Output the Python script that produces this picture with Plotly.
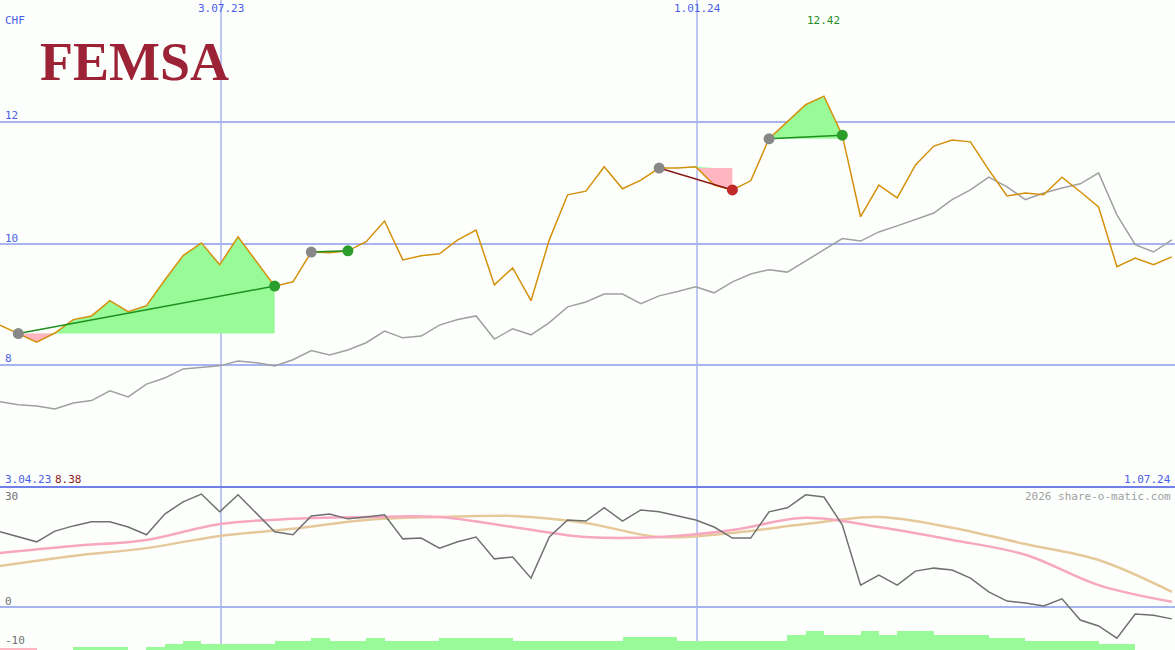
import plotly.graph_objects as go

weeks = list(range(1, 66))
price = [8.66, 8.52, 8.38, 8.53, 8.75, 8.81, 9.06, 8.88, 8.98, 9.40, 9.80, 10.01, 9.65, 10.11, 9.70,
         9.30, 9.37, 9.86, 9.85, 9.88, 10.03, 10.37, 9.73, 9.80, 9.83, 10.06, 10.22, 9.32, 9.60, 9.06,
         10.06, 10.80, 10.86, 11.26, 10.90, 11.04, 11.24, 11.24, 11.26, 10.96, 10.88, 11.03, 11.72, 12.00, 12.28,
         12.42, 11.78, 10.44, 10.96, 10.75, 11.29, 11.60, 11.70, 11.67, 11.21, 10.78, 10.83, 10.80, 11.09, 10.85,
         10.60, 9.62, 9.76, 9.65, 9.78]
bench = [7.40, 7.35, 7.33, 7.28, 7.38, 7.42, 7.58, 7.48, 7.69, 7.79, 7.94, 7.97, 7.99, 8.07, 8.04,
         7.99, 8.09, 8.24, 8.17, 8.25, 8.37, 8.56, 8.45, 8.48, 8.66, 8.75, 8.81, 8.43, 8.60, 8.50,
         8.70, 8.96, 9.04, 9.17, 9.17, 9.01, 9.14, 9.21, 9.29, 9.19, 9.37, 9.50, 9.57, 9.53, 9.71,
         9.89, 10.08, 10.04, 10.19, 10.29, 10.39, 10.50, 10.72, 10.88, 11.09, 10.93, 10.72, 10.83, 10.91, 10.98,
         11.16, 10.47, 9.98, 9.86, 10.06]
osc = [20.3, 18.9, 17.6, 20.5, 21.9, 23.0, 23.0, 21.6, 19.5, 25.1, 28.4, 30.5, 25.7, 30.3, 25.4,
       20.3, 19.5, 24.6, 25.1, 23.8, 24.3, 24.9, 18.4, 18.6, 15.9, 17.6, 18.9, 13.0, 13.5, 7.8,
       18.9, 23.5, 23.2, 26.8, 23.2, 26.2, 25.7, 24.6, 23.5, 21.6, 18.6, 18.6, 25.7, 26.8, 30.3,
       29.7, 22.2, 5.9, 8.6, 5.9, 9.7, 10.5, 10.0, 7.8, 4.1, 1.6, 1.1, 0.3, 2.2, -3.5,
       -5.1, -8.4, -1.9, -2.2, -3.2]
ma_weeks = [1, 5, 9, 13, 17, 21, 25, 29, 33, 37, 41, 45, 49, 53, 57, 61, 65]
ma_fast = [14.6, 16.5, 18.1, 22.4, 23.8, 24.3, 24.3, 21.6, 18.9, 18.9, 20.8, 24.1, 21.6, 18.1, 14.1, 5.9, 1.4]
ma_slow = [11.1, 13.8, 15.9, 19.2, 21.1, 23.5, 24.3, 24.6, 22.7, 18.9, 20.0, 22.4, 24.3, 21.4, 17.0, 12.7, 4.1]
bars = [-11.1, -11.1, None, None, -10.8, -10.8, -10.8, None, -10.8, -10.0, -9.2, -10.0, -10.0, -10.0, -10.0,
        -9.2, -9.2, -8.4, -9.2, -9.2, -8.4, -9.2, -9.2, -9.2, -8.4, -8.4, -8.4, -8.4, -9.2, -9.2,
        -9.2, -9.2, -9.2, -9.2, -8.1, -8.1, -8.1, -9.2, -9.2, -9.2, -9.2, -9.2, -9.2, -7.6, -6.5,
        -7.6, -7.6, -6.5, -7.6, -6.5, -6.5, -7.6, -7.6, -7.6, -8.4, -8.4, -9.2, -9.2, -9.2, -9.2,
        -10.0, -10.0, None, None, None]
trades = [(2, 16), (18, 20), (37, 41), (43, 47)]

BLUE = "#4a5ee8"
GRID = "#a8b4f0"
OSC_BOTTOM = -11.6

fig = go.Figure()

# trade fills
for a, b in trades:
    entry = price[a - 1]
    xs = weeks[a - 1:b]
    ps = price[a - 1:b]
    up = [max(p, entry) for p in ps]
    dn = [min(p, entry) for p in ps]
    for vals, col in ((up, "#98fb98"), (dn, "#ffb6c1")):
        fig.add_trace(go.Scatter(x=xs + xs[::-1], y=vals + [entry] * len(xs), fill="toself",
                                 fillcolor=col, line=dict(width=0), mode="lines",
                                 hoverinfo="skip", yaxis="y"))

fig.add_trace(go.Scatter(x=weeks, y=bench, mode="lines", line=dict(color="#a0a0a0", width=1.5)))
fig.add_trace(go.Scatter(x=weeks, y=price, mode="lines", line=dict(color="#d4900a", width=1.5)))

for a, b in trades:
    win = price[b - 1] >= price[a - 1]
    col = "#1f8f1f" if win else "#8b1a1a"
    fig.add_trace(go.Scatter(x=[a, b], y=[price[a - 1], price[b - 1]], mode="lines",
                             line=dict(color=col, width=1.5)))
    fig.add_trace(go.Scatter(x=[a, b], y=[price[a - 1], price[b - 1]], mode="markers",
                             marker=dict(size=11, color=["#888888", "#2a9d2a" if win else "#c0282a"],
                                         line=dict(width=0))))

# lower panel
fig.add_trace(go.Bar(x=[w + 0.5 for w in weeks],
                     y=[None if v is None else v - OSC_BOTTOM for v in bars],
                     base=OSC_BOTTOM, width=1,
                     marker=dict(color=["#ffb6c1" if i < 2 else "#98fb98" for i in range(len(bars))],
                                 line=dict(width=0)),
                     yaxis="y2"))
fig.add_trace(go.Scatter(x=ma_weeks, y=ma_slow, mode="lines", line=dict(color="#e6c99a", width=2.5),
                         line_shape="spline", yaxis="y2"))
fig.add_trace(go.Scatter(x=ma_weeks, y=ma_fast, mode="lines", line=dict(color="#f7a8c0", width=2.5),
                         line_shape="spline", yaxis="y2"))
fig.add_trace(go.Scatter(x=weeks, y=osc, mode="lines", line=dict(color="#707070", width=1.5), yaxis="y2"))

split = 1 - 487 / 650
fig.update_layout(
    width=1175, height=650, margin=dict(l=0, r=0, t=0, b=0),
    paper_bgcolor="#fdfffd", plot_bgcolor="#fdfffd", showlegend=False, bargap=0,
    font=dict(family="DejaVu Sans Mono", size=11, color=BLUE),
    xaxis=dict(range=[1, 1 + 1175 / 18.31], showgrid=False, zeroline=False, showticklabels=False),
    yaxis=dict(domain=[split, 1], range=[6, 14], tickvals=[8, 10, 12], gridcolor=GRID, gridwidth=1.5,
               zeroline=False, showticklabels=False),
    yaxis2=dict(domain=[0, split], range=[OSC_BOTTOM, 32.4], tickvals=[0], gridcolor=GRID, gridwidth=1.5,
                zeroline=False, showticklabels=False),
)

for w in (13.07, 39.07):
    fig.add_shape(type="line", xref="x", yref="paper", x0=w, x1=w, y0=0, y1=1,
                  line=dict(color=GRID, width=1.5), layer="below")
fig.add_shape(type="line", xref="paper", yref="paper", x0=0, x1=1, y0=split, y1=split,
              line=dict(color="#7080e8", width=2))

def label(x, y, text, color=BLUE, xanchor="left", xref="paper"):
    fig.add_annotation(x=x, y=y, xref=xref, yref="paper", text=text, showarrow=False,
                       font=dict(color=color), xanchor=xanchor, yanchor="middle")

H = 650
label(3 / 1175, 1 - 20 / H, "CHF")
label(3 / 1175, 1 - 116 / H, "12")
label(3 / 1175, 1 - 238 / H, "10")
label(3 / 1175, 1 - 358 / H, "8")
label(13.07, 1 - 9 / H, "3.07.23", xanchor="center", xref="x")
label(39.07, 1 - 9 / H, "1.01.24", xanchor="center", xref="x")
label(46, 1 - 21 / H, "12.42", color="#1f8f1f", xanchor="center", xref="x")
label(3 / 1175, 1 - 479 / H, "3.04.23")
label(53 / 1175, 1 - 479 / H, "8.38", color="#8b1a1a")
label(1173 / 1175, 1 - 479 / H, "1.07.24", xanchor="right")
label(1173 / 1175, 1 - 496 / H, "2026 share-o-matic.com", color="#a0a0a0", xanchor="right")
label(3 / 1175, 1 - 496 / H, "30", color="#707070")
label(3 / 1175, 1 - 601 / H, "0", color="#707070")
label(3 / 1175, 1 - 640 / H, "-10", color="#707070")

fig.add_annotation(x=38 / 1175, y=1 - 62 / H, xref="paper", yref="paper", text="<b>FEMSA</b>",
                   showarrow=False, xanchor="left", yanchor="middle",
                   font=dict(family="Liberation Serif", size=54, color="#9b2335"))

fig.write_html("out.html", config={"displayModeBar": False},
               post_script="document.body.style.margin='0';")
